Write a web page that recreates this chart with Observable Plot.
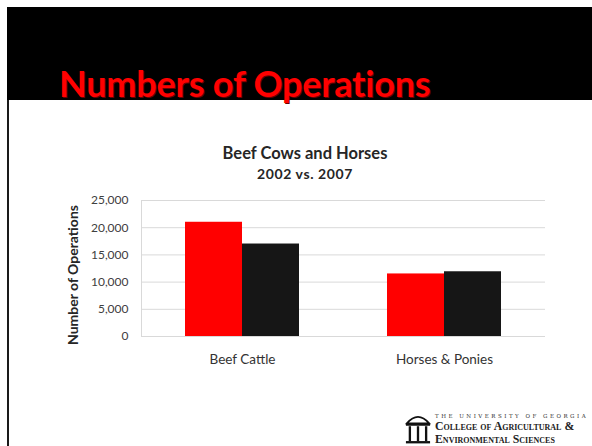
<!DOCTYPE html>
<html>
<head>
<meta charset="utf-8">
<script src="https://cdn.jsdelivr.net/npm/d3@7"></script>
<script src="https://cdn.jsdelivr.net/npm/@observablehq/plot@0.6"></script>
<style>
  html, body { margin: 0; padding: 0; background: #fff; }
  body { width: 592px; height: 446px; position: relative; overflow: hidden; font-family: Lato, "Noto Sans", sans-serif; }
  #band { position: absolute; left: 7px; top: 7px; width: 585px; height: 93px; background: #000; }
  #slideTitle { position: absolute; left: 59px; top: 61px; font-size: 36px; font-weight: 700; color: #ff0000; letter-spacing: -0.2px; white-space: nowrap; text-shadow: 1px 1px 0 #600; z-index: 2; }
  #leftLine { position: absolute; left: 7px; top: 100px; width: 2px; height: 346px; background: #1a1a1a; }
  #chartTitle { position: absolute; left: 0; width: 610px; top: 143px; text-align: center; font-size: 16.5px; font-weight: 700; color: #262626; }
  #chartSub { position: absolute; left: 0; width: 610px; top: 165px; text-align: center; font-size: 14px; font-weight: 700; color: #262626; letter-spacing: 0.6px; }
  #yLabel { position: absolute; left: 72px; top: 275px; transform: translate(-50%, -50%) rotate(-90deg); font-size: 14px; font-weight: 700; color: #262626; white-space: nowrap; }
  #chart { position: absolute; left: 0; top: 190px; }
  #logo { position: absolute; left: 404px; top: 410px; width: 188px; height: 36px; overflow: hidden; }
  #logo .l1 { position: absolute; left: 31px; top: 3px; font-family: "DejaVu Serif", serif; font-size: 5.5px; line-height: 6px; letter-spacing: 2.5px; color: #333; white-space: nowrap; }
  #logo .l2 { position: absolute; left: 31px; top: 10px; font-family: "Liberation Serif", serif; font-size: 11.8px; line-height: 12px; font-variant: small-caps; font-weight: 700; color: #222; white-space: nowrap; }
  #logo .l3 { position: absolute; left: 31px; top: 24px; font-family: "Liberation Serif", serif; font-size: 11.8px; line-height: 11px; font-variant: small-caps; font-weight: 700; color: #222; white-space: nowrap; }
</style>
</head>
<body>
<div id="band"></div>
<div id="slideTitle">Numbers of Operations</div>
<div id="leftLine"></div>
<div id="chartTitle">Beef Cows and Horses</div>
<div id="chartSub">2002 vs. 2007</div>
<div id="yLabel">Number of Operations</div>
<div id="chart"></div>
<div id="logo">
  <svg width="26" height="34" viewBox="0 0 28 36" style="position:absolute;left:1px;top:2px">
    <path d="M2 12 Q14 -2 26 12 Z" fill="none" stroke="#111" stroke-width="2"/>
    <rect x="1" y="12" width="26" height="2.5" fill="#111"/>
    <rect x="4" y="15" width="2.5" height="16" fill="#111"/>
    <rect x="12.75" y="15" width="2.5" height="16" fill="#111"/>
    <rect x="21.5" y="15" width="2.5" height="16" fill="#111"/>
    <rect x="1" y="31" width="26" height="2.5" fill="#111"/>
  </svg>
  <div class="l1">THE UNIVERSITY OF GEORGIA</div>
  <div class="l2">College of Agricultural &amp;</div>
  <div class="l3">Environmental Sciences</div>
</div>
<script>
const categories = ["Beef Cattle", "Horses & Ponies"];
const years = ["2002", "2007"];
const values2002 = [21000, 11500];
const values2007 = [17000, 11900];
const yTicks = [0, 5000, 10000, 15000, 20000, 25000];
const yearColors = ["#ff0000", "#161616"];

const data = categories.flatMap((c, i) => [
  {category: c, year: years[0], value: values2002[i]},
  {category: c, year: years[1], value: values2007[i]}
]);

const chart = Plot.plot({
  width: 592,
  height: 190,
  marginLeft: 141,
  marginRight: 47,
  marginTop: 10,
  marginBottom: 44,
  style: {fontFamily: "Lato, 'Noto Sans', sans-serif", fontSize: "12px", color: "#404040", background: "transparent", overflow: "visible"},
  fx: {domain: categories, paddingInner: 0, paddingOuter: 0, label: null, axis: null},
  x: {domain: years, paddingInner: 0, paddingOuter: 0.757, axis: null},
  y: {domain: [0, 25000], axis: null},
  color: {domain: years, range: yearColors},
  marks: [
    Plot.gridY(yTicks, {stroke: "#d9d9d9", strokeOpacity: 1}),
    Plot.frame({anchor: "left", stroke: "#d9d9d9", facetAnchor: "left"}),
    Plot.axisY(yTicks, {tickSize: 0, tickPadding: 13, tickFormat: d3.format(","), label: null, fontSize: 12, fill: "#404040"}),
    Plot.axisFx({anchor: "bottom", tickSize: 0, tickPadding: 18, label: null, fontSize: 13.5, fill: "#333"}),
    Plot.barY(data, {fx: "category", x: "year", y: "value", fill: "year"})
  ]
});
document.getElementById("chart").appendChild(chart);
</script>
</body>
</html>
